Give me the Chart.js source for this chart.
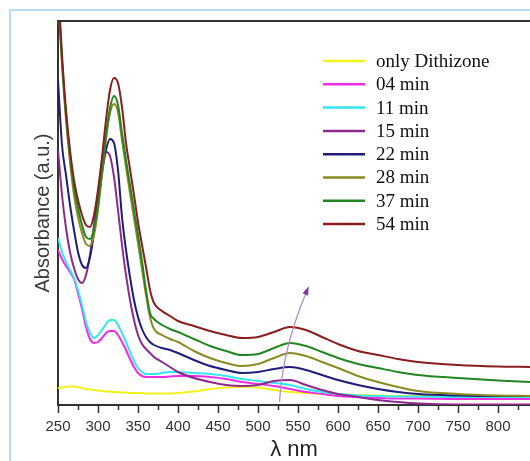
<!DOCTYPE html>
<html>
<head>
<meta charset="utf-8">
<script src="https://cdn.jsdelivr.net/npm/chart.js@4.4.1/dist/chart.umd.min.js"></script>
<style>
  html, body { margin: 0; padding: 0; background: #fff; }
  #wrap { position: relative; width: 530px; height: 461px; overflow: hidden; }
  #frame { position: absolute; left: 9px; top: 9px; width: 700px; height: 700px;
           border-left: 2px solid #b0e0f2; border-top: 2px solid #b0e0f2; }
  canvas { position: absolute; left: 0; top: 0; }
</style>
</head>
<body>
<div id="wrap">
  <div id="frame"></div>
  <canvas id="uvChart" width="530" height="461"></canvas>
</div>
<script>
// wavelength grid (nm), shared by every spectrum
const wavelengths = [250, 255, 260, 265, 270, 275, 280, 285, 290, 295, 300, 305, 310, 315, 320,
  325, 330, 335, 340, 345, 350, 355, 360, 365, 370, 380, 390, 400, 420, 440, 460, 480, 500,
  520, 540, 560, 580, 600, 625, 650, 675, 700, 750, 800, 840];

const tickLabels = [250, 300, 350, 400, 450, 500, 550, 600, 650, 700, 750, 800];

const seriesLabels = ['only Dithizone', '04 min', '11 min', '15 min', '22 min', '28 min', '37 min', '54 min'];
const seriesColors = ['#f2f21c', '#f02ce4', '#34e6f0', '#8e2a8e', '#1e1e7a', '#8a8a22', '#228622', '#8a1e1e'];

// absorbance values
const onlyDithizone = [0.17, 0.175, 0.18, 0.185, 0.185, 0.18, 0.17, 0.16, 0.155, 0.15, 0.145, 0.14, 0.135, 0.135, 0.13,
  0.13, 0.125, 0.125, 0.12, 0.12, 0.12, 0.12, 0.115, 0.115, 0.115, 0.115, 0.115, 0.12, 0.135, 0.16, 0.175, 0.18, 0.175,
  0.15, 0.13, 0.12, 0.11, 0.105, 0.10, 0.095, 0.09, 0.09, 0.085, 0.085, 0.085];
const min04 = [1.55, 1.46, 1.39, 1.33, 1.26, 1.12, 0.96, 0.78, 0.66, 0.62, 0.63, 0.67, 0.72, 0.74, 0.74,
  0.70, 0.63, 0.55, 0.46, 0.38, 0.32, 0.29, 0.28, 0.28, 0.28, 0.28, 0.285, 0.29, 0.29, 0.28, 0.26, 0.23, 0.21,
  0.19, 0.16, 0.13, 0.11, 0.09, 0.08, 0.07, 0.065, 0.065, 0.06, 0.06, 0.06];
const min11 = [1.67, 1.53, 1.43, 1.35, 1.27, 1.15, 1.00, 0.83, 0.72, 0.67, 0.70, 0.75, 0.81, 0.85, 0.85,
  0.80, 0.72, 0.63, 0.53, 0.44, 0.37, 0.33, 0.31, 0.31, 0.31, 0.32, 0.33, 0.33, 0.32, 0.31, 0.29, 0.26, 0.24,
  0.22, 0.20, 0.16, 0.13, 0.11, 0.095, 0.09, 0.085, 0.085, 0.08, 0.08, 0.08];
const min15 = [2.55, 2.10, 1.77, 1.53, 1.37, 1.26, 1.22, 1.30, 1.50, 1.80, 2.12, 2.40, 2.53, 2.49, 2.28,
  1.95, 1.60, 1.30, 1.05, 0.85, 0.70, 0.61, 0.56, 0.52, 0.48, 0.43, 0.38, 0.33, 0.27, 0.23, 0.20, 0.19, 0.20,
  0.24, 0.25, 0.20, 0.15, 0.11, 0.08, 0.05, 0.03, 0.015, 0.005, 0.005, 0.005];
const min22 = [3.25, 2.60, 2.30, 2.00, 1.75, 1.53, 1.40, 1.37, 1.48, 1.72, 2.03, 2.32, 2.55, 2.66, 2.62,
  2.35, 1.88, 1.55, 1.28, 1.05, 0.88, 0.76, 0.68, 0.63, 0.60, 0.57, 0.55, 0.52, 0.45, 0.39, 0.35, 0.32, 0.33,
  0.36, 0.38, 0.35, 0.30, 0.25, 0.20, 0.16, 0.13, 0.11, 0.095, 0.09, 0.09];
const min28 = [4.10, 3.40, 2.85, 2.43, 2.10, 1.88, 1.72, 1.61, 1.59, 1.70, 1.95, 2.30, 2.66, 2.92, 3.01,
  2.93, 2.65, 2.38, 2.12, 1.87, 1.62, 1.36, 1.10, 0.88, 0.76, 0.70, 0.66, 0.63, 0.54, 0.47, 0.42, 0.39, 0.41,
  0.47, 0.52, 0.49, 0.43, 0.37, 0.29, 0.23, 0.18, 0.14, 0.11, 0.095, 0.09];
const min37 = [4.15, 3.45, 2.90, 2.50, 2.18, 1.97, 1.80, 1.68, 1.66, 1.76, 2.00, 2.35, 2.70, 2.97, 3.09,
  3.00, 2.72, 2.45, 2.20, 1.95, 1.70, 1.44, 1.15, 0.92, 0.86, 0.80, 0.76, 0.73, 0.66, 0.59, 0.54, 0.50, 0.51,
  0.57, 0.62, 0.59, 0.53, 0.47, 0.41, 0.37, 0.33, 0.30, 0.27, 0.245, 0.23];
const min54 = [4.20, 3.50, 2.95, 2.55, 2.25, 2.05, 1.90, 1.80, 1.78, 1.90, 2.15, 2.48, 2.85, 3.15, 3.27,
  3.22, 2.98, 2.62, 2.36, 2.10, 1.83, 1.60, 1.38, 1.15, 1.02, 0.94, 0.89, 0.84, 0.79, 0.74, 0.70, 0.67, 0.68,
  0.73, 0.78, 0.75, 0.68, 0.61, 0.54, 0.50, 0.46, 0.43, 0.40, 0.385, 0.38];

const seriesValues = [onlyDithizone, min04, min11, min15, min22, min28, min37, min54];

// shift arrow annotation (nm, absorbance): start, control, end
const arrowPath = [[527, 0.03], [530, 0.55], [562, 1.16]];

const X_MIN = 250, X_MAX = 840, Y_MAX = 3.84;

const extrasPlugin = {
  id: 'extras',
  afterDatasetsDraw(chart) {
    const { ctx, scales: { x, y } } = chart;
    const pts = arrowPath.map(p => [x.getPixelForValue(p[0]), y.getPixelForValue(p[1])]);
    ctx.save();
    ctx.strokeStyle = '#b58ccc';
    ctx.lineWidth = 1.3;
    ctx.beginPath();
    ctx.moveTo(pts[0][0], pts[0][1]);
    ctx.quadraticCurveTo(pts[1][0], pts[1][1], pts[2][0], pts[2][1]);
    ctx.stroke();
    // arrow head
    const ang = Math.atan2(pts[2][1] - pts[1][1], pts[2][0] - pts[1][0]);
    ctx.fillStyle = '#7e3a9c';
    ctx.beginPath();
    ctx.moveTo(pts[2][0] + 3 * Math.cos(ang), pts[2][1] + 3 * Math.sin(ang));
    ctx.lineTo(pts[2][0] - 6 * Math.cos(ang) + 3 * Math.sin(ang), pts[2][1] - 6 * Math.sin(ang) - 3 * Math.cos(ang));
    ctx.lineTo(pts[2][0] - 6 * Math.cos(ang) - 3 * Math.sin(ang), pts[2][1] - 6 * Math.sin(ang) + 3 * Math.cos(ang));
    ctx.closePath();
    ctx.fill();
    ctx.restore();
  },
  afterDraw(chart) {
    const { ctx, chartArea, scales: { x } } = chart;
    ctx.save();
    // top frame line
    ctx.strokeStyle = '#333';
    ctx.lineWidth = 2;
    ctx.beginPath();
    ctx.moveTo(chartArea.left - 1, chartArea.top);
    ctx.lineTo(chartArea.right, chartArea.top);
    ctx.stroke();
    // minor ticks
    ctx.lineWidth = 1.5;
    ctx.beginPath();
    for (let v = X_MIN + 25; v < X_MAX; v += 50) {
      const px = Math.round(x.getPixelForValue(v)) + 0.5;
      ctx.moveTo(px, chartArea.bottom);
      ctx.lineTo(px, chartArea.bottom + 5);
    }
    ctx.stroke();
    // legend
    ctx.font = '19px "Liberation Serif", serif';
    ctx.textBaseline = 'middle';
    seriesLabels.forEach((label, i) => {
      const ly = 61 + i * 23.3;
      ctx.strokeStyle = seriesColors[i];
      ctx.lineWidth = 2.5;
      ctx.beginPath();
      ctx.moveTo(323, ly);
      ctx.lineTo(365, ly);
      ctx.stroke();
      ctx.fillStyle = '#111';
      ctx.fillText(label, 376, ly + 1);
    });
    ctx.restore();
  }
};

const ctx = document.getElementById('uvChart');
new Chart(ctx, {
  type: 'line',
  data: {
    labels: wavelengths,
    datasets: seriesValues.map((vals, i) => ({
      label: seriesLabels[i],
      data: vals.map((v, j) => ({ x: wavelengths[j], y: v })),
      borderColor: seriesColors[i],
      borderWidth: 2,
      pointRadius: 0,
      fill: false,
      cubicInterpolationMode: 'monotone',
      order: seriesValues.length - i
    }))
  },
  options: {
    responsive: false,
    animation: false,
    layout: { padding: { top: 21, right: 0, left: 0, bottom: 0 } },
    plugins: {
      legend: { display: false },
      tooltip: { enabled: false }
    },
    scales: {
      x: {
        type: 'linear',
        min: X_MIN,
        max: X_MAX,
        afterBuildTicks: (scale) => { scale.ticks = tickLabels.map(v => ({ value: v })); },
        afterFit: (scale) => { scale.height = 56; },
        border: { display: true, color: '#333', width: 2 },
        grid: {
          drawOnChartArea: false,
          drawTicks: true,
          tickLength: 8,
          tickWidth: 1.5,
          tickColor: '#333'
        },
        ticks: {
          maxRotation: 0,
          autoSkip: false,
          padding: 5,
          color: '#333',
          font: { family: 'Liberation Sans', size: 15 }
        },
        title: {
          display: true,
          text: 'λ nm',
          color: '#222',
          font: { family: 'Liberation Sans', size: 22, lineHeight: 1 },
          padding: { top: 0, bottom: 0 }
        }
      },
      y: {
        min: 0,
        max: Y_MAX,
        afterFit: (scale) => { scale.width = 58; },
        border: { display: true, color: '#333', width: 2 },
        grid: { display: false },
        ticks: { display: false },
        title: {
          display: true,
          text: 'Absorbance (a.u.)',
          color: '#3a3a3a',
          font: { family: 'Liberation Sans', size: 20 },
          padding: { top: 31, bottom: 0 }
        }
      }
    }
  },
  plugins: [extrasPlugin]
});
</script>
</body>
</html>
